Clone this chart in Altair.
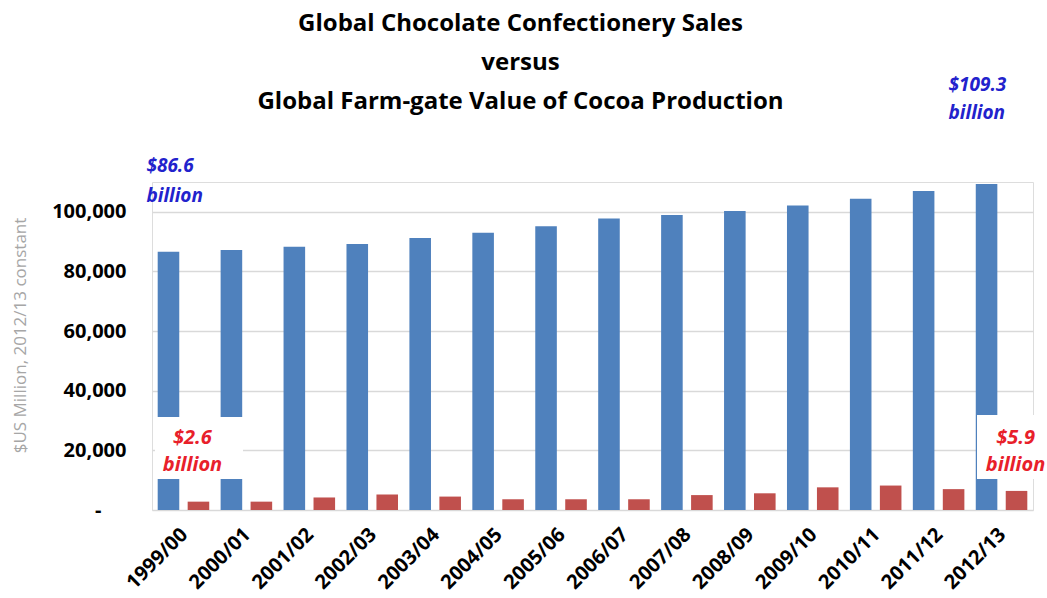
import altair as alt
import pandas as pd

seasons = ["1999/00", "2000/01", "2001/02", "2002/03", "2003/04", "2004/05", "2005/06",
           "2006/07", "2007/08", "2008/09", "2009/10", "2010/11", "2011/12", "2012/13"]
# $US million, 2012/13 constant
sales = [86600, 87200, 88300, 89200, 91200, 93000, 95200,
         97800, 98900, 100300, 102100, 104400, 107000, 109300]
cocoa = [2800, 2800, 4200, 5200, 4500, 3600, 3600,
         3600, 5000, 5600, 7600, 8200, 7000, 6400]
series_names = ["Chocolate confectionery sales", "Farm-gate value of cocoa"]
series_colors = ["#4f81bd", "#c0504d"]
y_ticks = [0, 20000, 40000, 60000, 80000, 100000]
title_lines = ["Global Chocolate Confectionery Sales", "versus",
               "Global Farm-gate Value of Cocoa Production"]

rows = []
for s, a, b in zip(seasons, sales, cocoa):
    rows.append({"season": s, "series": series_names[0], "value": a})
    rows.append({"season": s, "series": series_names[1], "value": b})
df = pd.DataFrame(rows)

FONT = "Open Sans"
W, H = 881, 328

xenc = alt.X("season:N", sort=seasons, title=None,
             scale=alt.Scale(paddingInner=0, paddingOuter=0),
             axis=alt.Axis(labelAngle=-45, labelFontSize=20, labelFontWeight="bold",
                           labelColor="#000000", labelFont=FONT, ticks=False,
                           labelAlign="right", labelBaseline="top", labelOffset=-6,
                           domain=False, labelPadding=14))

bars = alt.Chart(df).mark_bar().encode(
    x=xenc,
    xOffset=alt.XOffset("series:N", sort=series_names,
                        scale=alt.Scale(paddingInner=0.28, paddingOuter=0.19)),
    y=alt.Y("value:Q", title="$US Million, 2012/13 constant",
            scale=alt.Scale(domain=[0, 110000], nice=False, zero=True),
            axis=alt.Axis(values=y_ticks, ticks=False, domain=False,
                          labelFontSize=20, labelFontWeight="bold", labelColor="#000000",
                          labelFont=FONT,
                          labelPadding={"condition": {"test": "datum.value === 0", "value": 51},
                                        "value": 26},
                          labelExpr="datum.value === 0 ? '-' : datum.label",
                          format=",d",
                          gridColor="#d9d9d9", gridWidth=1.5,
                          titleFont=FONT, titleFontSize=17, titleFontWeight="normal",
                          titleColor="#a6a6a6", titleX=-132, titleY=153,
                          titleAngle=-90, titleAlign="center", titleBaseline="middle")),
    color=alt.Color("series:N", scale=alt.Scale(domain=series_names, range=series_colors),
                    legend=None),
)

base = alt.Chart(pd.DataFrame({"season": seasons}))

def white_box(x1, x2, y1, y2):
    return base.transform_filter(alt.datum.season == seasons[0]).mark_rect(
        color="white").encode(x=alt.value(x1), x2=alt.value(x2),
                              y=alt.value(y1), y2=alt.value(y2))

def note(season, text, color, ypx, dx, align, lh, size):
    return alt.Chart(pd.DataFrame({"season": [season], "label": [text]})).mark_text(
        font=FONT, fontSize=size, fontWeight="bold", fontStyle="italic", color=color,
        baseline="middle", align=align, dx=dx, lineBreak="|", lineHeight=lh
    ).encode(x=alt.X("season:N", sort=seasons), y=alt.value(ypx), text="label:N")

layers = [
    bars,
    white_box(3, 91, 235, 297),
    white_box(825, 900, 233, 297),
    note(seasons[0], "$2.6|billion", "#e8202a", 256, 9, "center", 27, 20),
    note(seasons[-1], "$5.9|billion", "#e8202a", 256, 14, "center", 27, 20),
    note(seasons[0], "$86.6|billion", "#2222cc", -16, -37, "left", 30, 19),
    note(seasons[-1], "$109.3|billion", "#2222cc", -97, -53, "left", 28, 19),
]

chart = alt.layer(*layers).properties(
    width=W, height=H,
    title=alt.TitleParams(text=title_lines, font=FONT, fontSize=24, fontWeight="bold",
                          color="#000000", lineHeight=39, anchor="middle", dx=-72,
                          offset=-38),
    autosize=alt.AutoSizeParams(type="none"),
    padding={"left": 152, "top": 182, "right": 14, "bottom": 88},
).configure_view(strokeWidth=0).configure(background="white")

chart.save("out.html", embed_options={"renderer": "svg", "actions": False})
